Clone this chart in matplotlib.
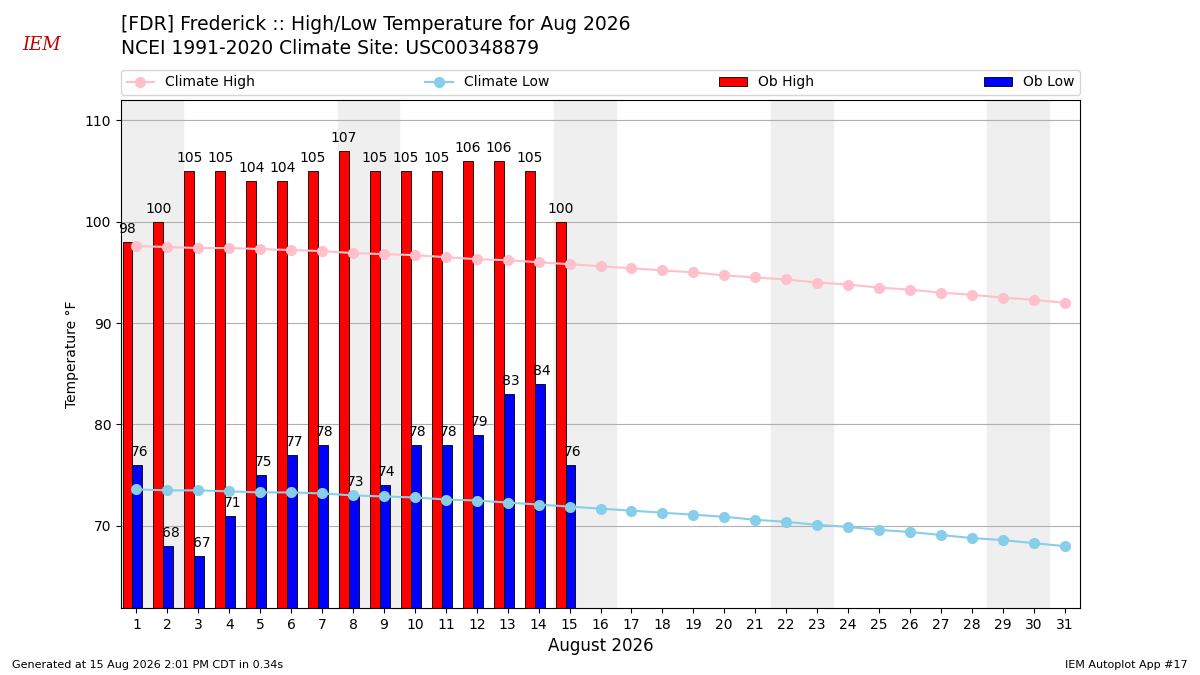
import numpy as np
import matplotlib.pyplot as plt

days = np.arange(1, 32)
clim_high = [97.6, 97.5, 97.4, 97.4, 97.3, 97.2, 97.1, 96.9, 96.8, 96.7, 96.5, 96.3, 96.2, 96.0, 95.8,
             95.6, 95.4, 95.2, 95.0, 94.7, 94.5, 94.3, 94.0, 93.8, 93.5, 93.3, 93.0, 92.8, 92.5, 92.3, 92.0]
clim_low = [73.6, 73.5, 73.5, 73.4, 73.3, 73.3, 73.2, 73.0, 72.9, 72.8, 72.6, 72.5, 72.3, 72.1, 71.9,
            71.7, 71.5, 71.3, 71.1, 70.9, 70.6, 70.4, 70.1, 69.9, 69.6, 69.4, 69.1, 68.8, 68.6, 68.3, 68.0]
ob_days = np.arange(1, 16)
ob_high = [98, 100, 105, 105, 104, 104, 105, 107, 105, 105, 105, 106, 106, 105, 100]
ob_low = [76, 68, 67, 71, 75, 77, 78, 73, 74, 78, 78, 79, 83, 84, 76]
weekends = [1, 8, 15, 22, 29]

fig = plt.figure(figsize=(12, 6.75), dpi=100)
ax = fig.add_axes([121/1200, 1-608/675, (1080-121)/1200, 508/675])

for d in weekends:
    ax.axvspan(d - 0.5, d + 1.5, color='#efefef', zorder=0)

ax.plot(days, clim_high, color='pink', marker='o', markersize=7, linewidth=1.5, label='Climate High', zorder=3)
ax.plot(days, clim_low, color='skyblue', marker='o', markersize=7, linewidth=1.5, label='Climate Low', zorder=3)
ax.bar(ob_days - 0.45, ob_high, width=0.32, align='edge', color='red', edgecolor='black', linewidth=0.6, label='Ob High', zorder=2)
ax.bar(ob_days - 0.13, ob_low, width=0.32, align='edge', color='blue', edgecolor='black', linewidth=0.6, label='Ob Low', zorder=2)
for d, h, l in zip(ob_days, ob_high, ob_low):
    ax.text(d - 0.29, h + 0.6, str(h), ha='center', va='bottom', fontsize=10)
    ax.text(d + 0.1, l + 0.6, str(l), ha='center', va='bottom', fontsize=10)

ax.set_xlim(0.5, 31.5)
ax.set_ylim(61.9, 112)
ax.set_xticks(days)
ax.set_yticks([70, 80, 90, 100, 110])
ax.yaxis.grid(True, color='#b0b0b0', linewidth=0.8, zorder=1)
ax.set_axisbelow(True)
ax.set_ylabel('Temperature \u00b0F')
ax.set_xlabel('August 2026', fontsize=12)

ax.legend(ncol=4, mode='expand', loc='lower left', bbox_to_anchor=(0, 1.01, 1, 0.05),
          fontsize=10, borderaxespad=0)

fig.text(121/1200, 1-25/675, '[FDR] Frederick :: High/Low Temperature for Aug 2026', fontsize=13.5, va='center')
fig.text(121/1200, 1-48/675, 'NCEI 1991-2020 Climate Site: USC00348879', fontsize=13.5, va='center')
fig.text(22/1200, 1-45/675, 'IEM', fontsize=13, color='#c00000', style='italic', family='serif', va='center')
fig.text(12/1200, 1-665/675, 'Generated at 15 Aug 2026 2:01 PM CDT in 0.34s', fontsize=8, va='center')
fig.text(1188/1200, 1-665/675, 'IEM Autoplot App #17', fontsize=8, va='center', ha='right')

fig.savefig('out.png')
